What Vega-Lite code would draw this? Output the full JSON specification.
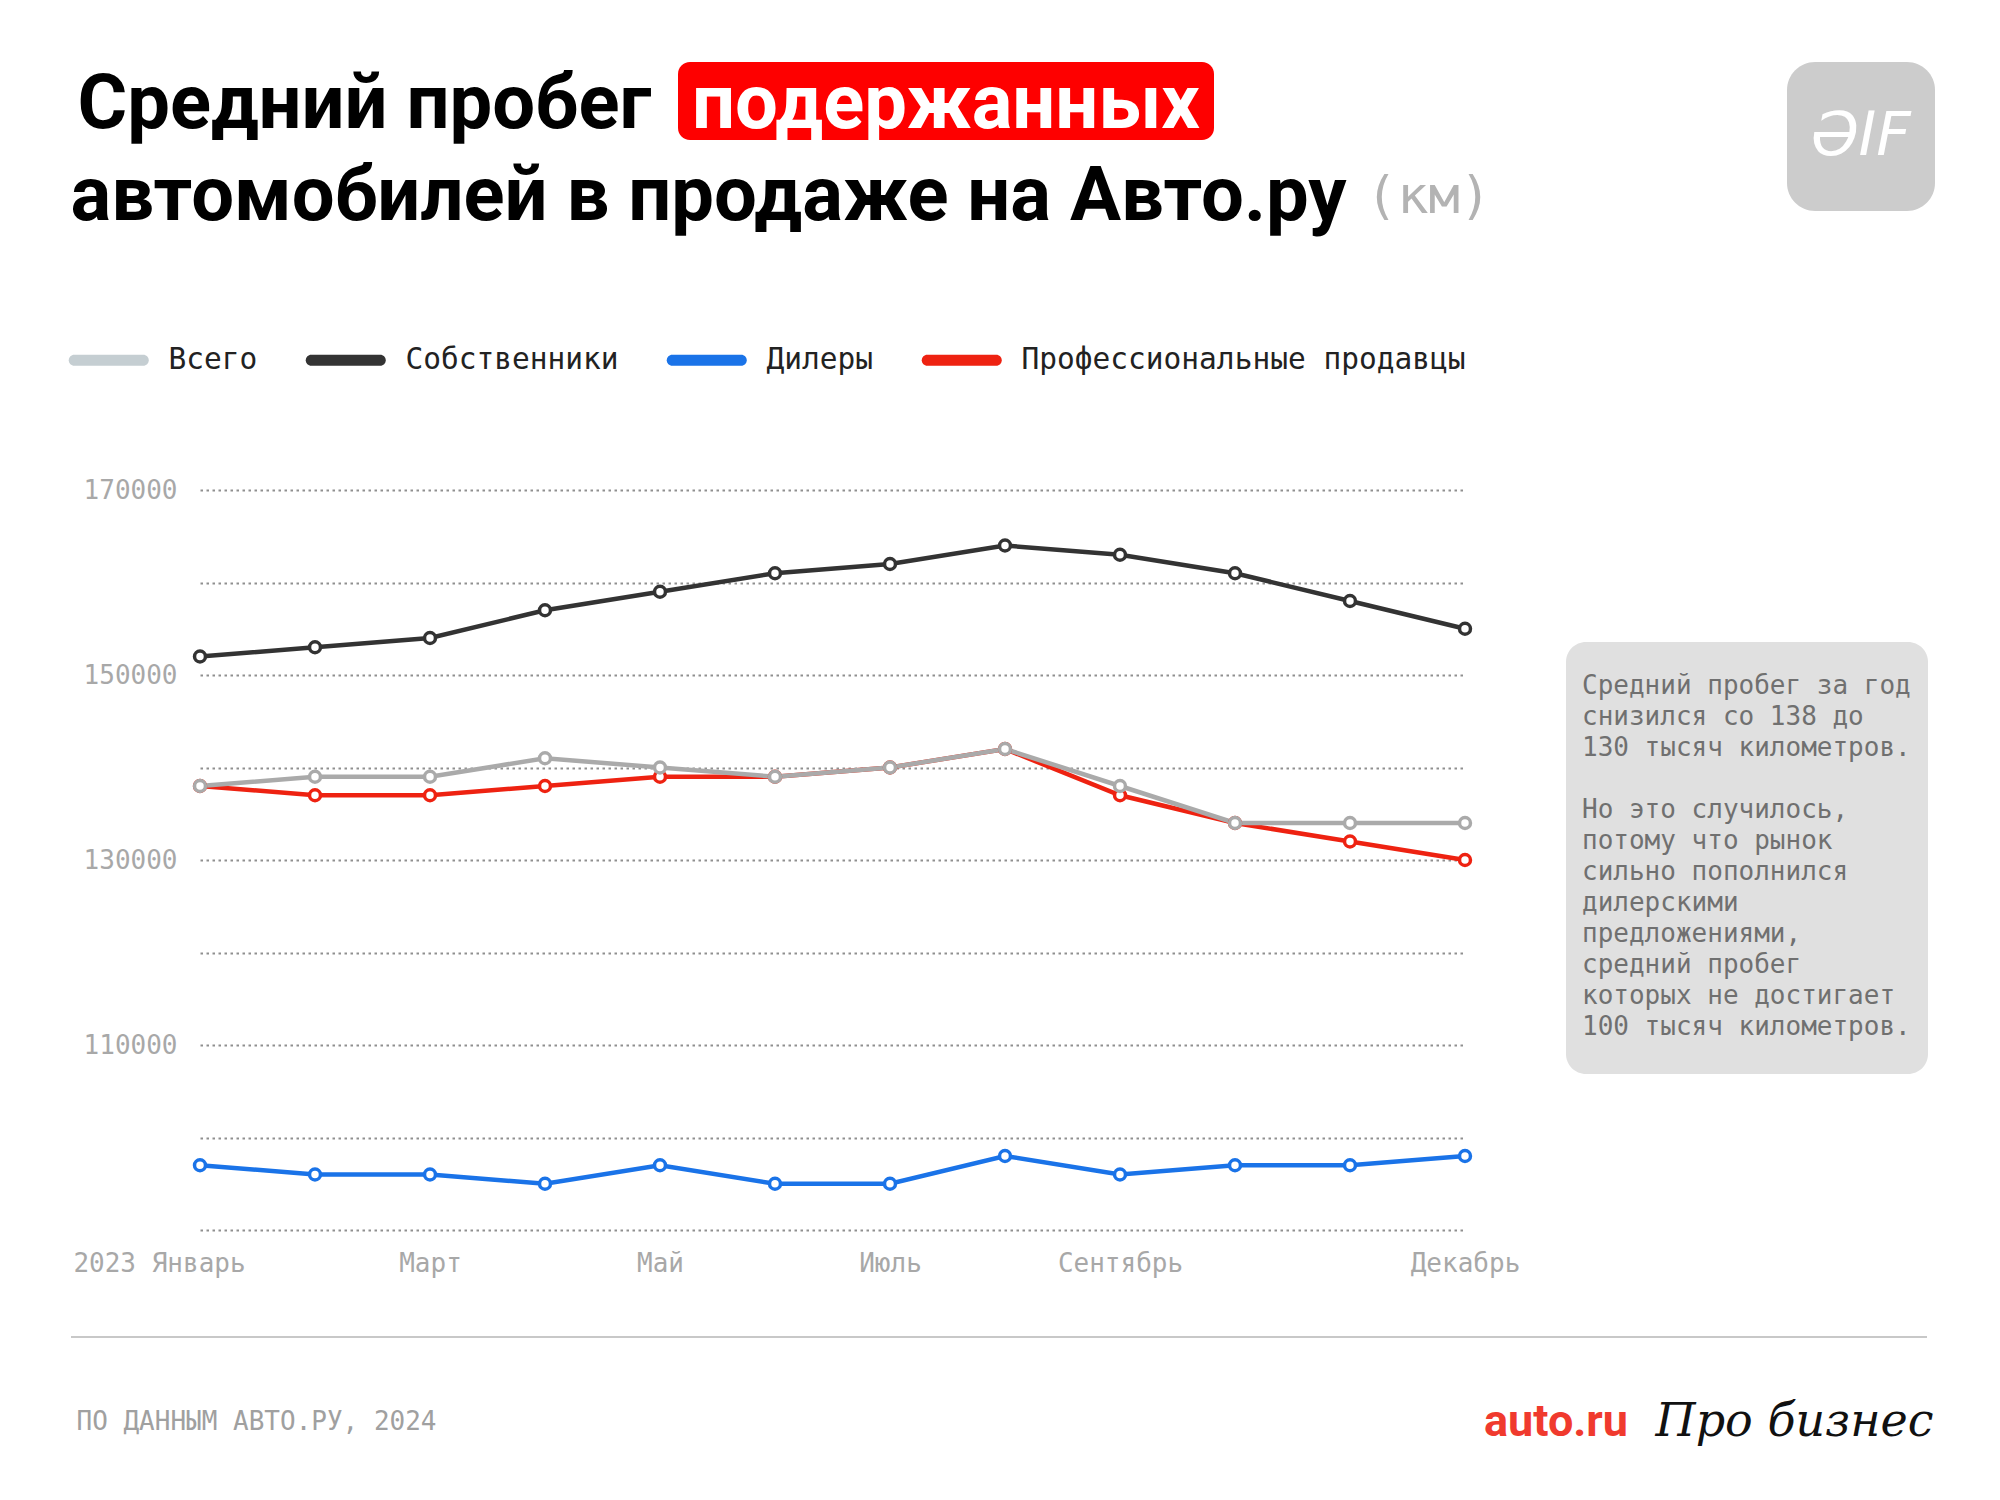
{
  "$schema": "https://vega.github.io/schema/vega-lite/v6.json",
  "background": "white",
  "padding": {"left": 70, "top": 62, "right": 10, "bottom": 10},
  "config": {
    "view": {"stroke": null},
    "font": "DejaVu Sans Mono",
    "legend": {"padding": 0}
  },
  "columns": 1,
  "align": "none",
  "spacing": 226,
  "concat": [
    {
      "spacing": 295,
      "hconcat": [
        {
          "spacing": 0,
          "vconcat": [
            {
              "spacing": 20,
              "hconcat": [
                {
                  "width": 587, "height": 78,
                  "data": {"values": [{"t": "Средний пробег"}]},
                  "mark": {"type": "text", "font": "Roboto", "fontWeight": 700, "fontSize": 76, "color": "#000000", "baseline": "middle", "dy": 4},
                  "encoding": {"text": {"field": "t"}}
                },
                {
                  "width": 536, "height": 78,
                  "view": {"fill": "#fe0000", "cornerRadius": 12, "stroke": null},
                  "data": {"values": [{"t": "подержанных"}]},
                  "mark": {"type": "text", "font": "Roboto", "fontWeight": 700, "fontSize": 76, "color": "#ffffff", "baseline": "middle", "dy": 4},
                  "encoding": {"text": {"field": "t"}}
                }
              ]
            },
            {
              "spacing": 18,
              "hconcat": [
                {
                  "width": 1275, "height": 108,
                  "data": {"values": [{"t": "автомобилей в продаже на Авто.ру"}]},
                  "mark": {"type": "text", "font": "Roboto", "fontWeight": 700, "fontSize": 76, "color": "#000000", "baseline": "middle"},
                  "encoding": {"text": {"field": "t"}}
                },
                {
                  "width": 125, "height": 108,
                  "data": {"values": [{"t": "(км)"}]},
                  "mark": {"type": "text", "font": "DejaVu Sans Mono", "fontSize": 52, "color": "#b3b3b3", "baseline": "middle"},
                  "encoding": {"text": {"field": "t"}}
                }
              ]
            }
          ]
        },
        {
          "width": 148, "height": 149,
          "view": {"fill": "#cccccc", "cornerRadius": 28, "stroke": null},
          "data": {"values": [{"t": "ƏIF"}]},
          "mark": {"type": "text", "font": "DejaVu Sans", "fontStyle": "italic", "fontSize": 60, "color": "#ffffff", "baseline": "middle"},
          "encoding": {"text": {"field": "t"}}
        }
      ]
    },
    {
      "columns": 1,
      "align": "none",
      "spacing": 60,
      "concat": [
        {
          "spacing": 0,
          "hconcat": [
            {
              "width": 1, "height": 1,
              "view": {"fill": "#ffffff", "stroke": null},
              "data": {"values": [{}]},
              "mark": {"type": "text", "fontSize": 0},
              "encoding": {"text": {"value": ""}}
            },
            {
              "spacing": 46,
              "hconcat": [
                {
                  "width": 1265, "height": 740,
                  "data": {"values": [
                    {"month": "Январь", "group": "Собственники", "km": 152000},
                    {"month": "Февраль", "group": "Собственники", "km": 153000},
                    {"month": "Март", "group": "Собственники", "km": 154000},
                    {"month": "Апрель", "group": "Собственники", "km": 157000},
                    {"month": "Май", "group": "Собственники", "km": 159000},
                    {"month": "Июнь", "group": "Собственники", "km": 161000},
                    {"month": "Июль", "group": "Собственники", "km": 162000},
                    {"month": "Август", "group": "Собственники", "km": 164000},
                    {"month": "Сентябрь", "group": "Собственники", "km": 163000},
                    {"month": "Октябрь", "group": "Собственники", "km": 161000},
                    {"month": "Ноябрь", "group": "Собственники", "km": 158000},
                    {"month": "Декабрь", "group": "Собственники", "km": 155000},
                    {"month": "Январь", "group": "Дилеры", "km": 97000},
                    {"month": "Февраль", "group": "Дилеры", "km": 96000},
                    {"month": "Март", "group": "Дилеры", "km": 96000},
                    {"month": "Апрель", "group": "Дилеры", "km": 95000},
                    {"month": "Май", "group": "Дилеры", "km": 97000},
                    {"month": "Июнь", "group": "Дилеры", "km": 95000},
                    {"month": "Июль", "group": "Дилеры", "km": 95000},
                    {"month": "Август", "group": "Дилеры", "km": 98000},
                    {"month": "Сентябрь", "group": "Дилеры", "km": 96000},
                    {"month": "Октябрь", "group": "Дилеры", "km": 97000},
                    {"month": "Ноябрь", "group": "Дилеры", "km": 97000},
                    {"month": "Декабрь", "group": "Дилеры", "km": 98000},
                    {"month": "Январь", "group": "Профессиональные продавцы", "km": 138000},
                    {"month": "Февраль", "group": "Профессиональные продавцы", "km": 137000},
                    {"month": "Март", "group": "Профессиональные продавцы", "km": 137000},
                    {"month": "Апрель", "group": "Профессиональные продавцы", "km": 138000},
                    {"month": "Май", "group": "Профессиональные продавцы", "km": 139000},
                    {"month": "Июнь", "group": "Профессиональные продавцы", "km": 139000},
                    {"month": "Июль", "group": "Профессиональные продавцы", "km": 140000},
                    {"month": "Август", "group": "Профессиональные продавцы", "km": 142000},
                    {"month": "Сентябрь", "group": "Профессиональные продавцы", "km": 137000},
                    {"month": "Октябрь", "group": "Профессиональные продавцы", "km": 134000},
                    {"month": "Ноябрь", "group": "Профессиональные продавцы", "km": 132000},
                    {"month": "Декабрь", "group": "Профессиональные продавцы", "km": 130000},
                    {"month": "Январь", "group": "Всего", "km": 138000},
                    {"month": "Февраль", "group": "Всего", "km": 139000},
                    {"month": "Март", "group": "Всего", "km": 139000},
                    {"month": "Апрель", "group": "Всего", "km": 141000},
                    {"month": "Май", "group": "Всего", "km": 140000},
                    {"month": "Июнь", "group": "Всего", "km": 139000},
                    {"month": "Июль", "group": "Всего", "km": 140000},
                    {"month": "Август", "group": "Всего", "km": 142000},
                    {"month": "Сентябрь", "group": "Всего", "km": 138000},
                    {"month": "Октябрь", "group": "Всего", "km": 134000},
                    {"month": "Ноябрь", "group": "Всего", "km": 134000},
                    {"month": "Декабрь", "group": "Всего", "km": 134000}
                  ]},
                  "encoding": {
                    "x": {
                      "field": "month", "type": "ordinal",
                      "sort": ["Январь", "Февраль", "Март", "Апрель", "Май", "Июнь", "Июль", "Август", "Сентябрь", "Октябрь", "Ноябрь", "Декабрь"],
                      "scale": {"type": "point", "padding": 0},
                      "axis": {
                        "title": null, "labelAngle": 0, "domain": false, "ticks": false, "grid": false,
                        "labelPadding": 20, "labelFont": "DejaVu Sans Mono", "labelFontSize": 26, "labelColor": "#a8a8a8",
                        "labelOverlap": false,
                        "labelExpr": "datum.value == 'Январь' ? '2023 Январь' : indexof(['Март', 'Май', 'Июль', 'Сентябрь', 'Декабрь'], datum.value) >= 0 ? datum.value : ''",
                        "labelOffset": {"condition": {"test": "datum.value == 'Январь'", "value": -41}, "value": 0}
                      }
                    },
                    "y": {
                      "field": "km", "type": "quantitative",
                      "scale": {"domain": [90000, 170000], "nice": false, "zero": false},
                      "axis": {
                        "title": null, "values": [90000, 100000, 110000, 120000, 130000, 140000, 150000, 160000, 170000],
                        "format": "d", "labelExpr": "datum.value % 20000 == 10000 && datum.value > 90000 ? datum.label : ''",
                        "domain": false, "ticks": false, "grid": true,
                        "gridDash": [2.5, 3.5], "gridColor": "#8f8f8f", "gridWidth": 2,
                        "labelPadding": 23, "labelFont": "DejaVu Sans Mono", "labelFontSize": 26, "labelColor": "#a8a8a8"
                      }
                    },
                    "color": {
                      "field": "group", "type": "nominal",
                      "scale": {
                        "domain": ["Всего", "Собственники", "Дилеры", "Профессиональные продавцы"],
                        "range": ["#aaaaaa", "#333333", "#1a73e8", "#ee2211"]
                      },
                      "legend": {
                        "title": null, "orient": "none", "legendX": 0, "legendY": 283,
                        "direction": "horizontal",
                        "labelFont": "DejaVu Sans Mono", "labelFontSize": 29.5, "labelColor": "#222222", "labelLimit": 0,
                        "labelOffset": 68, "columnPadding": 47,
                        "symbolType": "M-1.4375,-0.6875L7.1875,-0.6875A0.6875,0.6875 0 0 1 7.1875,0.6875L-1.4375,0.6875A0.6875,0.6875 0 0 1 -1.4375,-0.6875Z",
                        "symbolSize": 256, "symbolStrokeWidth": 0, "symbolOpacity": 1,
                        "encode": {
                          "symbols": {
                            "update": {
                              "fill": {"signal": "datum.value === 'Всего' ? '#c5ced2' : datum.value === 'Собственники' ? '#333333' : datum.value === 'Дилеры' ? '#1a73e8' : '#ee2211'"},
                              "stroke": {"value": "transparent"},
                              "opacity": {"value": 1}
                            }
                          }
                        }
                      }
                    }
                  },
                  "layer": [
                    {"mark": {"type": "line", "strokeWidth": 4.5}},
                    {"mark": {"type": "point", "filled": false, "fill": "#ffffff", "size": 120, "strokeWidth": 3.5, "opacity": 1}}
                  ]
                },
                {
                  "spacing": 151,
                  "vconcat": [
                    {
                      "width": 362, "height": 1,
                      "data": {"values": [{}]},
                      "mark": {"type": "text", "fontSize": 0},
                      "encoding": {"text": {"value": ""}}
                    },
                    {
                      "width": 362, "height": 432,
                      "view": {"fill": "#e0e0e0", "cornerRadius": 20, "stroke": null},
                      "data": {"values": [
                        {"para": 1, "note": "Средний пробег за год\nснизился со 138 до\n130 тысяч километров."},
                        {"para": 2, "note": "Но это случилось,\nпотому что рынок\nсильно пополнился\nдилерскими\nпредложениями,\nсредний пробег\nкоторых не достигает\n100 тысяч километров."}
                      ]},
                      "encoding": {"text": {"field": "note"}},
                      "layer": [
                        {
                          "transform": [{"filter": "datum.para == 1"}],
                          "mark": {"type": "text", "align": "left", "baseline": "top", "dx": -165, "dy": -185, "lineHeight": 31, "lineBreak": "\n", "font": "DejaVu Sans Mono", "fontSize": 26, "color": "#707070"}
                        },
                        {
                          "transform": [{"filter": "datum.para == 2"}],
                          "mark": {"type": "text", "align": "left", "baseline": "top", "dx": -165, "dy": -61, "lineHeight": 31, "lineBreak": "\n", "font": "DejaVu Sans Mono", "fontSize": 26, "color": "#707070"}
                        }
                      ]
                    }
                  ]
                }
              ]
            }
          ]
        },
        {
          "width": 1856, "height": 2,
          "view": {"fill": "#c8c8c8", "stroke": null},
          "data": {"values": [{}]},
          "mark": {"type": "text", "fontSize": 0},
          "encoding": {"text": {"value": ""}}
        },
        {
          "spacing": 1041,
          "hconcat": [
            {
              "width": 371, "height": 35,
              "data": {"values": [{"t": "ПО ДАННЫМ АВТО.РУ, 2024"}]},
              "mark": {"type": "text", "font": "DejaVu Sans Mono", "fontSize": 26, "color": "#a0a0a0", "baseline": "middle"},
              "encoding": {"text": {"field": "t"}}
            },
            {
              "spacing": 26,
              "hconcat": [
                {
                  "width": 146, "height": 35,
                  "data": {"values": [{"t": "auto.ru"}]},
                  "mark": {"type": "text", "font": "Roboto", "fontWeight": 700, "fontSize": 45, "color": "#f03a2e", "baseline": "middle"},
                  "encoding": {"text": {"field": "t"}}
                },
                {
                  "width": 275, "height": 35,
                  "data": {"values": [{"t": "Про бизнес"}]},
                  "mark": {"type": "text", "font": "DejaVu Serif", "fontStyle": "italic", "fontSize": 46, "color": "#111111", "baseline": "middle"},
                  "encoding": {"text": {"field": "t"}}
                }
              ]
            }
          ]
        }
      ]
    }
  ]
}
